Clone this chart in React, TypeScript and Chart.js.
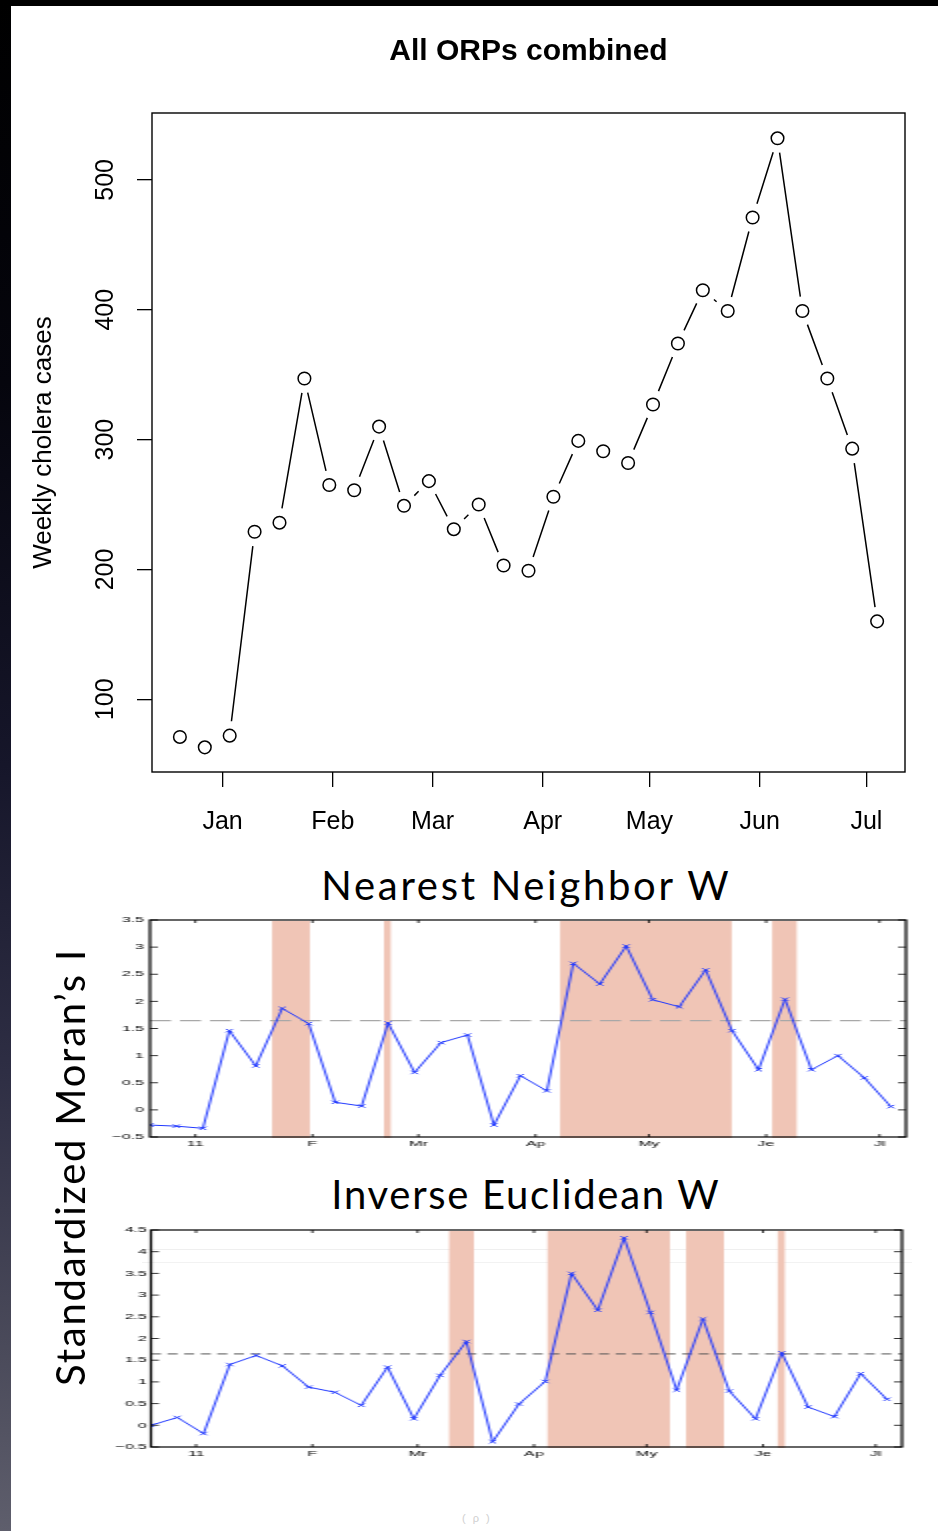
import React, { useEffect, useRef } from 'react';
import { Chart, registerables } from 'chart.js';

Chart.register(...registerables);

// ---------- data ----------
// week start dates, in days counted from 1 January
const weekDay = [-12, -5, 2, 9, 16, 23, 30, 37, 44, 51, 58, 65, 72, 79, 86, 93, 100, 107, 114, 121, 128, 135, 142, 149, 156, 163, 170, 177, 184];
const weeklyCases = [71, 63, 72, 229, 236, 347, 265, 261, 310, 249, 268, 231, 250, 203, 199, 256, 299, 291, 282, 327, 374, 415, 399, 471, 532, 399, 347, 293, 160];
const casesTicks = [100, 200, 300, 400, 500];

const monthDays = [0, 31, 59, 90, 120, 151, 181];
const monthNames = ['Jan', 'Feb', 'Mar', 'Apr', 'May', 'Jun', 'Jul'];
const monthShort = ['11', 'F', 'Mr', 'Ap', 'My', 'Je', 'Jl'];

const nnMoranI = [-0.28, -0.30, -0.34, 1.46, 0.81, 1.87, 1.59, 0.14, 0.07, 1.60, 0.69, 1.24, 1.38, -0.28, 0.63, 0.35, 2.70, 2.32, 3.02, 2.03, 1.90, 2.58, 1.46, 0.74, 2.04, 0.74, 1.00, 0.59, 0.06];
const nnTicks = [-0.5, 0, 0.5, 1, 1.5, 2, 2.5, 3, 3.5];
const nnShadeStart = [20.3, 49.9, 96.5, 152.6];
const nnShadeEnd = [30.3, 51.7, 141.9, 159.1];

const ieMoranI = [0.0, 0.18, -0.19, 1.40, 1.61, 1.37, 0.88, 0.76, 0.46, 1.34, 0.15, 1.15, 1.93, -0.38, 0.49, 1.01, 3.50, 2.65, 4.32, 2.60, 0.81, 2.45, 0.79, 0.15, 1.67, 0.42, 0.20, 1.19, 0.60];
const ieTicks = [-0.5, 0, 0.5, 1, 1.5, 2, 2.5, 3, 3.5, 4, 4.5];
const ieShadeStart = [67.4, 93.6, 130.5, 154.9];
const ieShadeEnd = [74.0, 126.2, 140.6, 156.8];

const criticalZ = 1.645;
const moranXMin = -12;
const moranXMax = 188;

// ---------- styling ----------
const SANS = "'Liberation Sans', Arial, Helvetica, sans-serif";
const HUMANIST = "Lato, 'Open Sans', sans-serif";
const BLUE = '#2038ff';
const SHADE = 'rgb(240,197,182)';

// R type="b" connecting segments with gaps around the points
const gapLinePlugin = {
  id: 'gapLines',
  beforeDatasetsDraw(chart: any) {
    const pts = chart.getDatasetMeta(0).data;
    const ctx = chart.ctx;
    const gap = 14.5;
    ctx.save();
    ctx.strokeStyle = '#000';
    ctx.lineWidth = 1.5;
    ctx.beginPath();
    for (let i = 0; i < pts.length - 1; i++) {
      const a = pts[i], b = pts[i + 1];
      const dx = b.x - a.x, dy = b.y - a.y;
      const len = Math.sqrt(dx * dx + dy * dy);
      if (len <= 2 * gap) continue;
      const ux = dx / len, uy = dy / len;
      ctx.moveTo(a.x + ux * gap, a.y + uy * gap);
      ctx.lineTo(b.x - ux * gap, b.y - uy * gap);
    }
    ctx.stroke();
    ctx.restore();
  },
};

const boxPlugin = {
  id: 'rbox',
  afterDraw(chart: any) {
    const { ctx, chartArea: a } = chart;
    ctx.save();
    ctx.strokeStyle = '#000';
    ctx.lineWidth = 1.4;
    ctx.strokeRect(a.left, a.top, a.right - a.left, a.bottom - a.top);
    ctx.restore();
  },
};

const shadePlugin = (starts: number[], ends: number[]) => ({
  id: 'shade',
  beforeDatasetsDraw(chart: any) {
    const { ctx, chartArea: a, scales } = chart;
    const x = scales.x;
    ctx.save();
    ctx.fillStyle = SHADE;
    starts.forEach((s, i) => {
      const x0 = x.getPixelForValue(s);
      const x1 = x.getPixelForValue(ends[i]);
      ctx.fillRect(x0, a.top + 1, x1 - x0, a.bottom - a.top);
    });
    ctx.restore();
  },
});

const matlabFramePlugin = {
  id: 'matlabFrame',
  afterDatasetsDraw(chart: any) {
    const { ctx, chartArea: a, scales } = chart;
    const x = scales.x, y = scales.y;
    ctx.save();
    ctx.strokeStyle = '#000';
    ctx.lineWidth = 0.8;
    ctx.beginPath();
    x.ticks.forEach((t: any) => {
      const px = x.getPixelForValue(t.value);
      ctx.moveTo(px, a.top);
      ctx.lineTo(px, a.top + 3);
      ctx.moveTo(px, a.bottom);
      ctx.lineTo(px, a.bottom - 3);
    });
    y.ticks.forEach((t: any) => {
      const py = y.getPixelForValue(t.value);
      ctx.moveTo(a.left, py);
      ctx.lineTo(a.left + 4, py);
      ctx.moveTo(a.right, py);
      ctx.lineTo(a.right - 4, py);
    });
    ctx.stroke();
    ctx.lineWidth = 1.2;
    ctx.strokeRect(a.left, a.top, a.right - a.left, a.bottom - a.top);
    ctx.restore();
  },
};

function casesConfig(): any {
  return {
    type: 'scatter',
    data: {
      datasets: [
        {
          data: weekDay.map((d, i) => ({ x: d, y: weeklyCases[i] })),
          showLine: false,
          pointStyle: 'circle',
          pointRadius: 6.3,
          pointHoverRadius: 6.3,
          pointBorderWidth: 1.5,
          pointBorderColor: '#000',
          pointBackgroundColor: 'rgba(255,255,255,0)',
        },
      ],
    },
    options: {
      animation: false,
      responsive: false,
      devicePixelRatio: 1,
      events: [],
      layout: { padding: { left: 0, right: 33, top: 0, bottom: 0 } },
      plugins: {
        legend: { display: false },
        tooltip: { enabled: false },
        title: {
          display: true,
          fullSize: false,
          text: 'All ORPs combined',
          color: '#000',
          font: { family: SANS, size: 30, weight: 'bold', lineHeight: 1.2 },
          padding: { top: 34, bottom: 43 },
        },
      },
      scales: {
        x: {
          type: 'linear',
          min: -19.84,
          max: 191.84,
          afterBuildTicks: (s: any) => { s.ticks = monthDays.map((v) => ({ value: v })); },
          afterFit: (s: any) => { s.height = 78; },
          ticks: {
            autoSkip: false,
            maxRotation: 0,
            padding: 20,
            color: '#000',
            font: { family: SANS, size: 25 },
            callback: (v: any) => monthNames[monthDays.indexOf(v)],
          },
          grid: { display: true, drawOnChartArea: false, drawTicks: true, tickLength: 15, color: '#000', lineWidth: 1.3 },
          border: { display: false },
        },
        y: {
          type: 'linear',
          min: 44,
          max: 551.5,
          afterBuildTicks: (s: any) => { s.ticks = casesTicks.map((v) => ({ value: v })); },
          afterFit: (s: any) => { s.width = 152; },
          ticks: {
            minRotation: 90,
            maxRotation: 90,
            crossAlign: 'center',
            padding: 10,
            color: '#000',
            font: { family: SANS, size: 25 },
            callback: (v: any) => String(v),
          },
          title: {
            display: true,
            text: 'Weekly cholera cases',
            color: '#000',
            font: { family: SANS, size: 26 },
            padding: { top: 28, bottom: 0 },
          },
          grid: { display: true, drawOnChartArea: false, drawTicks: true, tickLength: 15, color: '#000', lineWidth: 1.3 },
          border: { display: false },
        },
      },
    },
    plugins: [gapLinePlugin, boxPlugin],
  };
}

const fmtTick = (v: number) => (v < 0 ? '\u2212' + Math.abs(v) : String(v));

function moranConfig(
  values: number[], yTicks: number[], starts: number[], ends: number[],
  axisWidth: number, rightPad: number, labelPad: number,
  dashColor: string, dashWidth: number, dash: number[],
): any {
  return {
    type: 'scatter',
    data: {
      datasets: [
        {
          data: weekDay.map((d, i) => ({ x: d, y: values[i] })),
          showLine: true,
          borderColor: BLUE,
          borderWidth: 1,
          pointStyle: 'crossRot',
          pointRadius: 2.4,
          pointHoverRadius: 2.4,
          pointBorderColor: BLUE,
          pointBorderWidth: 0.9,
          pointBackgroundColor: BLUE,
        },
        {
          data: [{ x: moranXMin, y: criticalZ }, { x: moranXMax, y: criticalZ }],
          showLine: true,
          borderColor: dashColor,
          borderWidth: dashWidth,
          borderDash: dash,
          pointRadius: 0,
          pointHoverRadius: 0,
        },
      ],
    },
    options: {
      animation: false,
      responsive: false,
      devicePixelRatio: 1,
      events: [],
      layout: { padding: { left: 0, right: rightPad, top: 70, bottom: 0 } },
      plugins: { legend: { display: false }, tooltip: { enabled: false }, title: { display: false } },
      scales: {
        x: {
          type: 'linear',
          min: moranXMin,
          max: moranXMax,
          afterBuildTicks: (s: any) => { s.ticks = monthDays.map((v) => ({ value: v })); },
          afterFit: (s: any) => { s.height = 11; },
          ticks: {
            autoSkip: false,
            maxRotation: 0,
            padding: 2,
            color: '#000',
            font: { family: SANS, size: 8 },
            callback: (v: any) => monthShort[monthDays.indexOf(v)],
          },
          grid: { display: false, drawTicks: false },
          border: { display: false },
        },
        y: {
          type: 'linear',
          min: yTicks[0],
          max: yTicks[yTicks.length - 1],
          afterBuildTicks: (s: any) => { s.ticks = yTicks.map((v) => ({ value: v })); },
          afterFit: (s: any) => { s.width = axisWidth; },
          ticks: {
            padding: labelPad,
            color: '#000',
            font: { family: SANS, size: 8 },
            callback: (v: any) => fmtTick(v),
          },
          grid: { display: false, drawTicks: false },
          border: { display: false },
        },
      },
    },
    plugins: [shadePlugin(starts, ends), matlabFramePlugin],
  };
}

function ChartBox(props: { make: () => any; width: number; height: number; style: any }) {
  const ref = useRef<HTMLCanvasElement | null>(null);
  useEffect(() => {
    const chart = new Chart(ref.current as HTMLCanvasElement, props.make());
    return () => chart.destroy();
  }, []);
  return (
    <div style={props.style}>
      <canvas
        ref={ref}
        width={props.width}
        height={props.height}
        style={{ display: 'block', width: props.width + 'px', height: props.height + 'px' }}
      />
    </div>
  );
}

const slideTitle = (top: number, spacing: number): any => ({
  position: 'absolute',
  left: 225 + spacing / 2,
  width: 600,
  top,
  height: 50,
  lineHeight: '50px',
  textAlign: 'center',
  fontFamily: HUMANIST,
  fontSize: 40,
  letterSpacing: spacing + 'px',
  color: '#000',
  whiteSpace: 'nowrap',
});

export default function App() {
  return (
    <div style={{ position: 'absolute', left: 0, top: 0, width: 938, height: 1531, overflow: 'hidden', background: '#fff' }}>
      <ChartBox make={casesConfig} width={938} height={850} style={{ position: 'absolute', left: 0, top: 0 }} />

      <div style={slideTitle(860, 2.7)}>Nearest Neighbor W</div>
      <ChartBox
        make={() => moranConfig(nnMoranI, nnTicks, nnShadeStart, nnShadeEnd, 75, 16, 3, '#a8a8a8', 1.4, [10.5, 4.5])}
        width={469}
        height={298}
        style={{ position: 'absolute', left: 0, top: 850, transform: 'scaleX(2)', transformOrigin: '0 0' }}
      />

      <div style={slideTitle(1169, 1.7)}>Inverse Euclidean W</div>
      <div style={{ position: 'absolute', left: 142, top: 1249, width: 770, height: 12, borderTop: '1px solid rgba(0,0,0,0.06)', borderBottom: '1px solid rgba(0,0,0,0.05)' }} />
      <ChartBox
        make={() => moranConfig(ieMoranI, ieTicks, ieShadeStart, ieShadeEnd, 75.5, 18, 2, '#555555', 1, [5, 3.3])}
        width={469}
        height={298}
        style={{ position: 'absolute', left: 0, top: 1160, transform: 'scaleX(2)', transformOrigin: '0 0' }}
      />

      <div
        style={{
          position: 'absolute', left: 70 - 300, top: 1167 - 25, width: 600, height: 50, lineHeight: '50px',
          textAlign: 'center', fontFamily: HUMANIST, fontSize: 40, letterSpacing: '1.8px', color: '#000',
          transform: 'rotate(-90deg)', transformOrigin: '50% 50%', whiteSpace: 'nowrap',
        }}
      >
        Standardized Moran{'\u2019'}s I
      </div>

      <div style={{ position: 'absolute', left: 462, top: 1512, fontFamily: SANS, fontSize: 11, color: '#cfcfcf', letterSpacing: 2 }}>( ρ )</div>

      <div style={{ position: 'absolute', left: 0, top: 0, width: 938, height: 6, background: '#000' }} />
      <div
        style={{
          position: 'absolute', left: 0, top: 0, width: 11, height: 1531,
          background: 'linear-gradient(to bottom, #000 0%, #05050d 25%, #16162a 50%, #2e2e44 70%, #4a4a5a 88%, #5e5e6c 100%)',
        }}
      />
    </div>
  );
}
